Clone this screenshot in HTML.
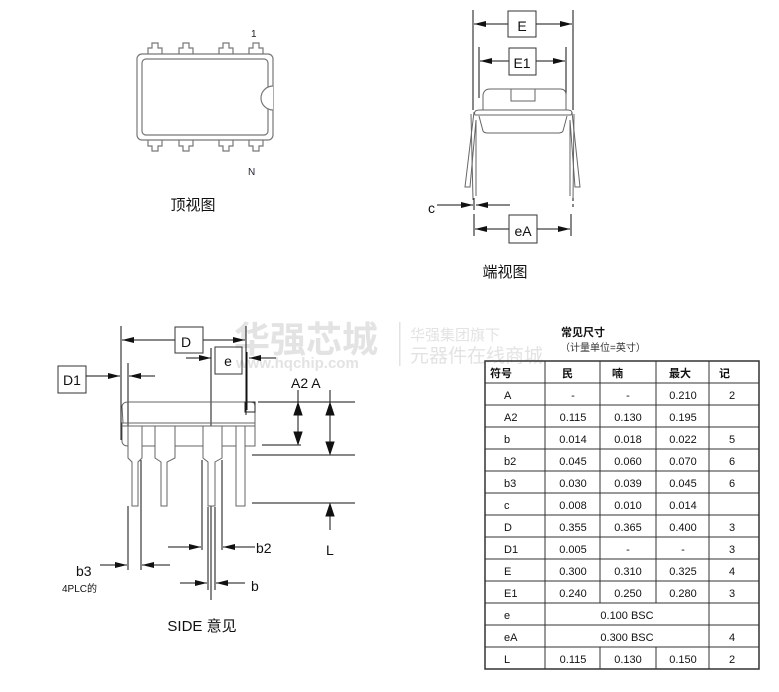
<!DOCTYPE html>
<html><head><meta charset="utf-8"><style>
html,body{margin:0;padding:0;background:#fff;}
svg{display:block;font-family:"Liberation Sans","Noto Sans CJK SC",sans-serif;}
</style></head><body>
<svg width="779" height="692" viewBox="0 0 779 692" xmlns="http://www.w3.org/2000/svg">
<defs>
<marker id="ar" markerWidth="12" markerHeight="6" refX="12" refY="3" orient="auto" markerUnits="userSpaceOnUse"><path d="M0,0 L12,3 L0,6 z" fill="#111"/></marker>
</defs>
<!-- watermark -->
<g fill="#e3e3e3">
<text x="234" y="352" font-size="36" font-weight="bold" font-family="Noto Sans CJK SC,sans-serif">华强芯城</text>
<text x="236" y="368" font-size="15" font-weight="bold">www.hqchip.com</text>
<rect x="399" y="322" width="1.5" height="44"/>
<text x="410" y="340" font-size="15" font-family="Noto Sans CJK SC,sans-serif">华强集团旗下</text>
<text x="410" y="362" font-size="19" font-family="Noto Sans CJK SC,sans-serif">元器件在线商城</text>
</g>

<!-- TOP VIEW -->
<g fill="none" stroke="#777" stroke-width="1.2">
<rect x="137" y="54" width="136" height="86" rx="5"/>
<rect x="142" y="59" width="126" height="76" rx="4"/>
<path d="M273,86 A12,12 0 0 0 273,110" fill="#fff"/>
<path d="M148,54 v-6 h4 v-5 h6 v5 h4 v6 M179,54 v-6 h4 v-5 h6 v5 h4 v6 M219,54 v-6 h4 v-5 h6 v5 h4 v6 M249,54 v-6 h4 v-5 h6 v5 h4 v6"/>
<path d="M148,140 v6 h4 v5 h6 v-5 h4 v-6 M179,140 v6 h4 v5 h6 v-5 h4 v-6 M219,140 v6 h4 v5 h6 v-5 h4 v-6 M249,140 v6 h4 v5 h6 v-5 h4 v-6"/>
</g>
<text x="251" y="37" font-size="10" fill="#222">1</text>
<text x="248" y="175" font-size="10" fill="#223">N</text>
<text x="193" y="210" font-size="15" text-anchor="middle" fill="#111">顶视图</text>

<!-- END VIEW -->
<g stroke="#111" stroke-width="1" fill="none">
<line x1="473" y1="10" x2="473" y2="110"/><line x1="573" y1="10" x2="573" y2="110"/>
<line x1="479" y1="47" x2="479" y2="98"/><line x1="566" y1="47" x2="566" y2="98"/>
<line x1="508" y1="24" x2="474" y2="24" marker-end="url(#ar)"/>
<line x1="536" y1="24" x2="572" y2="24" marker-end="url(#ar)"/>
<line x1="509" y1="61" x2="480" y2="61" marker-end="url(#ar)"/>
<line x1="536" y1="61" x2="565" y2="61" marker-end="url(#ar)"/>
<rect x="508" y="11" width="28" height="26" stroke="#333"/>
<rect x="509" y="48" width="27" height="27" stroke="#333"/>
</g>
<text x="522" y="31" font-size="14" text-anchor="middle" fill="#111">E</text>
<text x="522" y="68" font-size="14" text-anchor="middle" fill="#111">E1</text>
<g stroke="#666" stroke-width="1" fill="none">
<path d="M483,110 L483,95 Q484,89 490,89 L560,89 Q566,89 566,95 L566,110"/>
<rect x="511" y="89" width="24" height="12"/>
<path d="M475,115 Q473,110 480,110 L567,110 Q574,110 571,115 Z"/>
<path d="M479,116 L483,131 Q484,133 488,133 L558,133 Q562,133 563,131 L567,116"/>
<path d="M474,112 L465,187 L470,187 L476,120 L476,196"/>
<path d="M471,114 L473,200"/>
<path d="M572,112 L580,187 L575,187 L570,120 L570,196"/>
<path d="M574,114 L573,200"/>
</g>
<g stroke="#111" stroke-width="1" fill="none">
<line x1="474" y1="198" x2="474" y2="210"/>
<line x1="573" y1="198" x2="573" y2="207" stroke-dasharray="3,3"/>
<line x1="474" y1="214" x2="474" y2="236"/><line x1="571" y1="214" x2="571" y2="236"/>
<line x1="437" y1="205" x2="473" y2="205" marker-end="url(#ar)"/>
<line x1="510" y1="205" x2="476" y2="205" marker-end="url(#ar)"/>
<line x1="509" y1="229" x2="475" y2="229" marker-end="url(#ar)"/>
<line x1="537" y1="229" x2="570" y2="229" marker-end="url(#ar)"/>
<rect x="509" y="215" width="28" height="28" stroke="#333"/>
</g>
<text x="428" y="213" font-size="14" fill="#111">c</text>
<text x="523" y="236" font-size="14" text-anchor="middle" fill="#111">eA</text>
<text x="505" y="277" font-size="15" text-anchor="middle" fill="#111">端视图</text>

<!-- SIDE VIEW -->
<g stroke="#111" stroke-width="1" fill="none">
<line x1="121" y1="326" x2="121" y2="440"/><line x1="246" y1="326" x2="246" y2="415"/>
<line x1="175" y1="340" x2="122" y2="340" marker-end="url(#ar)"/>
<line x1="203" y1="340" x2="245" y2="340" marker-end="url(#ar)"/>
<rect x="175" y="327" width="28" height="26" stroke="#333"/>
<rect x="215" y="347" width="27" height="27" stroke="#333"/>
<line x1="186" y1="358" x2="211" y2="358" marker-end="url(#ar)"/>
<line x1="276" y1="358" x2="249" y2="358" marker-end="url(#ar)"/>
<line x1="211" y1="348" x2="211" y2="600"/>
<line x1="247" y1="352" x2="247" y2="410"/>
<rect x="58" y="366" width="28" height="27" stroke="#333"/>
<line x1="86" y1="376" x2="120" y2="376" marker-end="url(#ar)"/>
<line x1="155" y1="376" x2="129" y2="376" marker-end="url(#ar)"/>
<line x1="128" y1="363" x2="128" y2="440"/>
</g>
<text x="186" y="347" font-size="14" text-anchor="middle" fill="#111">D</text>
<text x="228" y="366" font-size="14" text-anchor="middle" fill="#111">e</text>
<text x="72" y="385" font-size="14" text-anchor="middle" fill="#111">D1</text>
<g stroke="#666" stroke-width="1" fill="none">
<path d="M123,423 L122,406 Q123,402 128,402 L251,402 Q255,402 255,406 L255,423 Z"/>
<rect x="245" y="402" width="10" height="10" stroke="#222"/>
<rect x="122" y="423" width="133" height="3"/>
<path d="M122,426 L122,442 Q123,446 128,446 L255,446 L255,426"/>
<g fill="#fff">
<path d="M128,426 L128,458 L132,462 L132,506 L138,506 L138,462 L142,458 L142,426 Z"/>
<path d="M155,426 L155,458 L161,462 L161,506 L167,506 L167,462 L175,458 L175,426 Z"/>
<path d="M203,426 L203,458 L208,462 L208,506 L215,506 L215,462 L222,458 L222,426 Z"/>
<path d="M236,426 L236,506 L245,506 L245,426 Z"/>
</g>
</g>
<g stroke="#111" stroke-width="1" fill="none">
<line x1="258" y1="402" x2="355" y2="402"/>
<line x1="262" y1="445" x2="301" y2="445"/>
<line x1="252" y1="455" x2="355" y2="455"/>
<line x1="252" y1="503" x2="355" y2="503"/>
<line x1="298" y1="390" x2="298" y2="440"/>
<path d="M298,403 l-4,12 h8 z M298,444 l-4,-12 h8 z" fill="#111"/>
<line x1="330" y1="390" x2="330" y2="452"/>
<path d="M330,403 l-4,12 h8 z M330,454 l-4,-12 h8 z" fill="#111"/>
<line x1="330" y1="530" x2="330" y2="504"/>
<path d="M330,504 l-4,12 h8 z" fill="#111"/>
<line x1="128" y1="506" x2="128" y2="570"/><line x1="141" y1="460" x2="141" y2="570"/>
<line x1="202" y1="460" x2="202" y2="550"/><line x1="222" y1="460" x2="222" y2="550"/>
<line x1="208" y1="507" x2="208" y2="590"/><line x1="215" y1="507" x2="215" y2="590"/>
<line x1="168" y1="547" x2="201" y2="547" marker-end="url(#ar)"/>
<line x1="255" y1="547" x2="223" y2="547" marker-end="url(#ar)"/>
<line x1="100" y1="565" x2="127" y2="565" marker-end="url(#ar)"/>
<line x1="170" y1="565" x2="142" y2="565" marker-end="url(#ar)"/>
<line x1="180" y1="583" x2="207" y2="583" marker-end="url(#ar)"/>
<line x1="245" y1="583" x2="216" y2="583" marker-end="url(#ar)"/>
</g>
<text x="291" y="388" font-size="14" fill="#111">A2 A</text>
<text x="326" y="555" font-size="14" fill="#111">L</text>
<text x="256" y="553" font-size="14" fill="#111">b2</text>
<text x="76" y="576" font-size="14" fill="#111">b3</text>
<text x="62" y="592" font-size="10" fill="#111">4PLC的</text>
<text x="251" y="591" font-size="14" fill="#111">b</text>
<text x="202" y="631" font-size="15" text-anchor="middle" fill="#111">SIDE 意见</text>

<!-- TABLE -->
<text x="561" y="336" font-size="11" font-weight="bold" fill="#111">常见尺寸</text>
<text x="560" y="351" font-size="10" fill="#333">（计量单位=英寸）</text>
<g stroke="#333" stroke-width="1" fill="none">
<rect x="485" y="361" width="274" height="308" stroke-width="1.5"/>
<line x1="485" y1="383" x2="759" y2="383"/>
<line x1="485" y1="405" x2="759" y2="405"/><line x1="485" y1="427" x2="759" y2="427"/>
<line x1="485" y1="449" x2="759" y2="449"/><line x1="485" y1="471" x2="759" y2="471"/>
<line x1="485" y1="493" x2="759" y2="493"/><line x1="485" y1="515" x2="759" y2="515"/>
<line x1="485" y1="537" x2="759" y2="537"/><line x1="485" y1="559" x2="759" y2="559"/>
<line x1="485" y1="581" x2="759" y2="581"/><line x1="485" y1="603" x2="759" y2="603"/>
<line x1="485" y1="625" x2="759" y2="625"/><line x1="485" y1="647" x2="759" y2="647"/>
<line x1="545" y1="361" x2="545" y2="669"/>
<line x1="600" y1="361" x2="600" y2="603"/><line x1="656" y1="361" x2="656" y2="603"/>
<line x1="600" y1="647" x2="600" y2="669"/><line x1="656" y1="647" x2="656" y2="669"/>
<line x1="709" y1="361" x2="709" y2="669"/>
</g>
<g font-size="11" fill="#111">
<g font-weight="bold"><text x="490" y="377">符号</text><text x="562" y="377">民</text><text x="612" y="377">喃</text><text x="669" y="377">最大</text><text x="719" y="377">记</text></g>
<g text-anchor="middle">
<text x="573" y="399">-</text><text x="628" y="399">-</text><text x="683" y="399">0.210</text><text x="732" y="399">2</text>
<text x="573" y="421">0.115</text><text x="628" y="421">0.130</text><text x="683" y="421">0.195</text>
<text x="573" y="443">0.014</text><text x="628" y="443">0.018</text><text x="683" y="443">0.022</text><text x="732" y="443">5</text>
<text x="573" y="465">0.045</text><text x="628" y="465">0.060</text><text x="683" y="465">0.070</text><text x="732" y="465">6</text>
<text x="573" y="487">0.030</text><text x="628" y="487">0.039</text><text x="683" y="487">0.045</text><text x="732" y="487">6</text>
<text x="573" y="509">0.008</text><text x="628" y="509">0.010</text><text x="683" y="509">0.014</text>
<text x="573" y="531">0.355</text><text x="628" y="531">0.365</text><text x="683" y="531">0.400</text><text x="732" y="531">3</text>
<text x="573" y="553">0.005</text><text x="628" y="553">-</text><text x="683" y="553">-</text><text x="732" y="553">3</text>
<text x="573" y="575">0.300</text><text x="628" y="575">0.310</text><text x="683" y="575">0.325</text><text x="732" y="575">4</text>
<text x="573" y="597">0.240</text><text x="628" y="597">0.250</text><text x="683" y="597">0.280</text><text x="732" y="597">3</text>
<text x="627" y="619">0.100 BSC</text>
<text x="627" y="641">0.300 BSC</text><text x="732" y="641">4</text>
<text x="573" y="663">0.115</text><text x="628" y="663">0.130</text><text x="683" y="663">0.150</text><text x="732" y="663">2</text>
</g>
<text x="504" y="399">A</text><text x="504" y="421">A2</text><text x="504" y="443">b</text><text x="504" y="465">b2</text>
<text x="504" y="487">b3</text><text x="504" y="509">c</text><text x="504" y="531">D</text><text x="504" y="553">D1</text>
<text x="504" y="575">E</text><text x="504" y="597">E1</text><text x="504" y="619">e</text><text x="504" y="641">eA</text><text x="504" y="663">L</text>
</g>
</svg>
</body></html>
